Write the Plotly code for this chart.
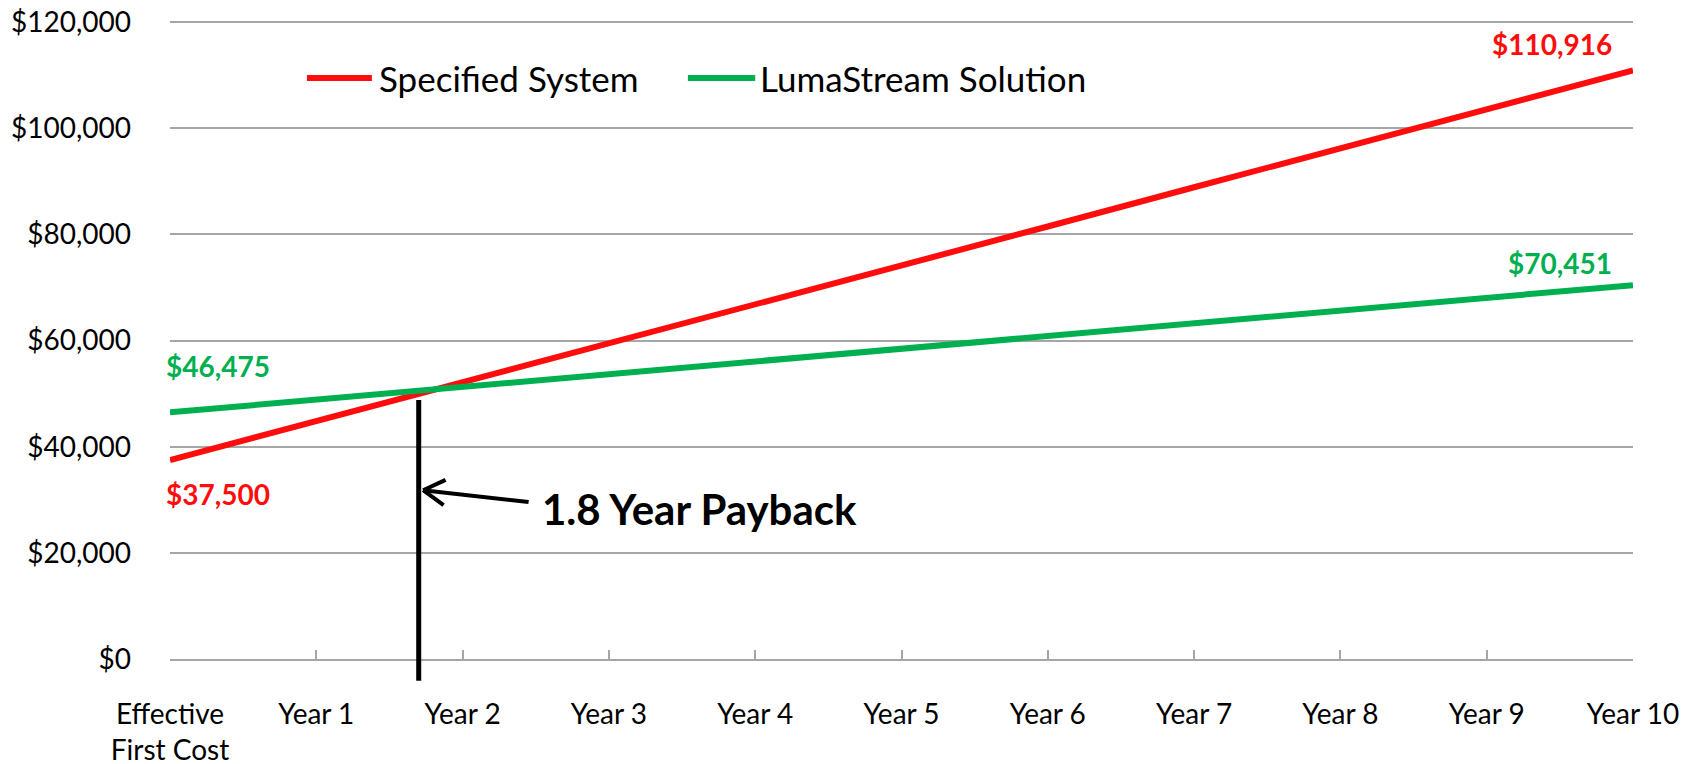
import plotly.graph_objects as go

# ---------------- data ----------------
categories = ["Effective<br>First Cost", "Year 1", "Year 2", "Year 3", "Year 4", "Year 5",
              "Year 6", "Year 7", "Year 8", "Year 9", "Year 10"]
series_names = ["Specified System", "LumaStream Solution"]
specified = [37500, 44800, 52200, 59500, 66900, 74200, 81500, 88900, 96200, 103600, 110916]
lumastream = [46475, 48900, 51300, 53700, 56100, 58500, 60900, 63300, 65700, 68100, 70451]
y_tickvals = [0, 20000, 40000, 60000, 80000, 100000, 120000]
y_ticktext = ["$0", "$20,000", "$40,000", "$60,000", "$80,000", "$100,000", "$120,000"]
payback_label = "1.8 Year Payback"
payback_marker_x = 1.7      # where the payback marker line is drawn (category index)
payback_marker_top = 48800  # top of the marker line
payback_arrow_y = 31800     # height the arrow points at

RED = "#FF0D0D"
GREEN = "#00B050"
GRID = "#A6A6A6"
FONT = "Lato, 'Noto Sans', sans-serif"

fig = go.Figure()
fig.add_trace(go.Scatter(x=categories, y=specified, mode="lines", name=series_names[0],
                         line=dict(color=RED, width=6), hoverinfo="skip"))
fig.add_trace(go.Scatter(x=categories, y=lumastream, mode="lines", name=series_names[1],
                         line=dict(color=GREEN, width=6), hoverinfo="skip"))

def money(v):
    return "${:,.0f}".format(v)

arrow_x = payback_marker_x + 0.03
annotations = [
    # end-point labels
    dict(x=0, y=specified[0], text="<b>" + money(specified[0]) + "</b>", showarrow=False,
         xanchor="left", yanchor="middle", xshift=-6, yshift=-34,
         font=dict(family=FONT, size=28, color=RED)),
    dict(x=0, y=lumastream[0], text="<b>" + money(lumastream[0]) + "</b>", showarrow=False,
         xanchor="left", yanchor="middle", xshift=-6, yshift=46,
         font=dict(family=FONT, size=28, color=GREEN)),
    dict(x=len(categories) - 1, y=specified[-1], text="<b>" + money(specified[-1]) + "</b>",
         showarrow=False, xanchor="right", yanchor="middle", xshift=-19, yshift=26,
         font=dict(family=FONT, size=28, color=RED)),
    dict(x=len(categories) - 1, y=lumastream[-1], text="<b>" + money(lumastream[-1]) + "</b>",
         showarrow=False, xanchor="right", yanchor="middle", xshift=-19, yshift=22,
         font=dict(family=FONT, size=28, color=GREEN)),
    # vertical payback marker line (extends below the axis)
    dict(x=payback_marker_x, y=payback_marker_top, ax=payback_marker_x, ay=-4400,
         axref="x", ayref="y", xref="x", yref="y", text="", showarrow=True,
         arrowhead=0, arrowwidth=5, arrowcolor="black", standoff=0),
    # arrow shaft + open chevron head pointing at the marker
    dict(x=arrow_x, y=payback_arrow_y, ax=107, ay=12, text="", showarrow=True,
         arrowhead=0, arrowwidth=4, arrowcolor="black", standoff=0),
    dict(x=arrow_x, y=payback_arrow_y, ax=24, ay=-11, text="", showarrow=True,
         arrowhead=0, arrowwidth=4, arrowcolor="black", standoff=0),
    dict(x=arrow_x, y=payback_arrow_y, ax=22, ay=16, text="", showarrow=True,
         arrowhead=0, arrowwidth=4, arrowcolor="black", standoff=0),
    dict(x=arrow_x, y=payback_arrow_y, text="<b>" + payback_label + "</b>",
         showarrow=False, xanchor="left", yanchor="middle", xshift=117, yshift=-19,
         font=dict(family=FONT, size=42, color="black")),
    # custom legend text
    dict(xref="paper", yref="paper", x=0.1415, y=0.908, text=series_names[0], showarrow=False,
         xanchor="left", yanchor="middle", font=dict(family=FONT, size=35, color="black")),
    dict(xref="paper", yref="paper", x=0.4020, y=0.908, text=series_names[1], showarrow=False,
         xanchor="left", yanchor="middle", font=dict(family=FONT, size=35, color="black")),
]

shapes = [
    dict(type="line", xref="paper", yref="paper", x0=0.0936, x1=0.1380, y0=0.908, y1=0.908,
         line=dict(color=RED, width=6)),
    dict(type="line", xref="paper", yref="paper", x0=0.354, x1=0.400, y0=0.908, y1=0.908,
         line=dict(color=GREEN, width=6)),
]

fig.update_layout(
    width=1698, height=764,
    margin=dict(l=162, r=73, t=11, b=113),
    paper_bgcolor="white", plot_bgcolor="white",
    showlegend=False,
    annotations=annotations, shapes=shapes,
    font=dict(family=FONT, size=28, color="black"),
    xaxis=dict(type="category", range=[0, len(categories) - 1], showgrid=False,
               showline=True, linecolor=GRID, linewidth=2, automargin=False,
               ticks="inside", ticklen=9, tickwidth=2, tickcolor=GRID,
               ticklabelstandoff=29, ticklabeloverflow="allow",
               tickfont=dict(family=FONT, size=28, color="black"),
               zeroline=False),
    yaxis=dict(range=[0, 120600], tickvals=y_tickvals, ticktext=y_ticktext,
               showgrid=True, gridcolor=GRID, gridwidth=2, zeroline=False, automargin=False,
               showline=False, ticks="", ticklabelstandoff=38, ticklabeloverflow="allow",
               tickfont=dict(family=FONT, size=28, color="black")),
)

fig.write_html("out.html")
